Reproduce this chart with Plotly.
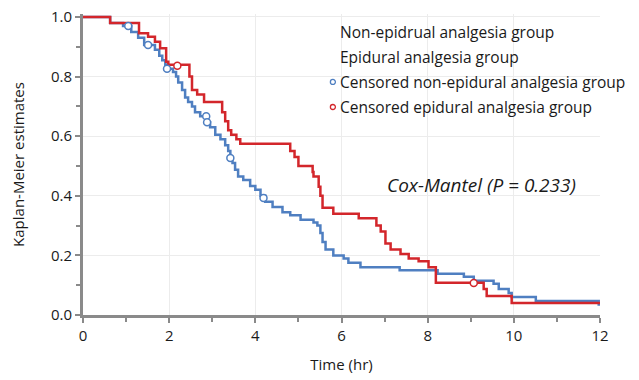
import plotly.graph_objects as go

# Non-epidural analgesia group (blue) - step curve
blue_t = [0, 0.63, 0.93, 1.12, 1.28, 1.42, 1.67, 1.77, 1.84, 1.91, 1.95, 2.09, 2.16, 2.21, 2.30, 2.37, 2.44,
          2.53, 2.60, 2.72, 2.88, 2.95, 3.07, 3.19, 3.30, 3.37, 3.42, 3.47, 3.53, 3.60, 3.72, 3.88, 4.00,
          4.12, 4.23, 4.40, 4.63, 4.81, 5.05, 5.35, 5.44, 5.51, 5.56, 5.63, 5.81, 6.05, 6.16, 6.44, 7.35,
          8.23, 8.84, 9.07, 9.53, 9.65, 9.88, 9.95, 10.51, 11.97, 12.0]
blue_s = [1.0, 0.98, 0.97, 0.95, 0.93, 0.906, 0.89, 0.87, 0.855, 0.84, 0.826, 0.815, 0.80, 0.78, 0.755, 0.73, 0.715,
          0.70, 0.68, 0.667, 0.647, 0.63, 0.605, 0.59, 0.57, 0.55, 0.527, 0.51, 0.487, 0.465, 0.453, 0.433, 0.42,
          0.40, 0.38, 0.362, 0.345, 0.335, 0.32, 0.31, 0.30, 0.275, 0.245, 0.22, 0.20, 0.19, 0.175, 0.16, 0.15,
          0.138, 0.128, 0.115, 0.105, 0.087, 0.074, 0.06, 0.047, 0.035, 0.035]

# Epidural analgesia group (red) - step curve
red_t = [0, 0.63, 1.30, 1.51, 1.67, 1.79, 1.93, 1.98, 2.47, 2.53, 2.65, 2.81, 3.23, 3.30, 3.37, 3.44, 3.56,
         3.65, 4.81, 4.91, 5.00, 5.33, 5.35, 5.47, 5.51, 5.56, 5.81, 6.40, 6.81, 6.91, 7.02, 7.14, 7.37,
         7.56, 7.79, 8.02, 8.19, 9.30, 9.37, 9.95, 12.0]
red_s = [1.0, 0.98, 0.945, 0.934, 0.917, 0.895, 0.85, 0.84, 0.80, 0.755, 0.74, 0.715, 0.68, 0.65, 0.62, 0.605, 0.59,
         0.575, 0.55, 0.53, 0.50, 0.48, 0.465, 0.43, 0.40, 0.36, 0.34, 0.325, 0.30, 0.28, 0.24, 0.22, 0.205,
         0.19, 0.18, 0.16, 0.108, 0.087, 0.064, 0.04, 0.04]

# Censored observations
cens_blue_t = [1.05, 1.51, 1.95, 2.86, 2.88, 3.42, 4.19]
cens_blue_s = [0.97, 0.906, 0.826, 0.667, 0.647, 0.527, 0.393]
cens_red_t = [2.19, 9.07]
cens_red_s = [0.836, 0.107]

legend_labels = ["Non-epidrual analgesia group", "Epidural analgesia group",
                 "Censored non-epidural analgesia group", "Censored epidural analgesia group"]

x_ticks = [0, 2, 4, 6, 8, 10, 12]
y_ticks = [0.0, 0.2, 0.4, 0.6, 0.8, 1.0]

BLUE = "#4f7fc1"
RED = "#d3262b"
FONT = "Open Sans"

fig = go.Figure()
fig.add_trace(go.Scatter(x=blue_t, y=blue_s, mode="lines", line=dict(color=BLUE, width=2.5, shape="hv"),
                         name=legend_labels[0], showlegend=False))
fig.add_trace(go.Scatter(x=red_t, y=red_s, mode="lines", line=dict(color=RED, width=2.5, shape="hv"),
                         name=legend_labels[1], showlegend=False))
fig.add_trace(go.Scatter(x=cens_blue_t, y=cens_blue_s, mode="markers",
                         marker=dict(symbol="circle", size=7, color="white", line=dict(color=BLUE, width=1.5)),
                         name=legend_labels[2], showlegend=False))
fig.add_trace(go.Scatter(x=cens_red_t, y=cens_red_s, mode="markers",
                         marker=dict(symbol="circle", size=7, color="white", line=dict(color=RED, width=1.5)),
                         name=legend_labels[3], showlegend=False))

# Legend drawn as text
leg_y = [0.950, 0.866, 0.782, 0.698]
for i, lab in enumerate(legend_labels):
    fig.add_annotation(x=5.93, y=leg_y[i], xref="x", yref="y", text=lab, showarrow=False,
                       xanchor="left", yanchor="middle", font=dict(family=FONT, size=15.5, color="#1a1a1a"))
for yy, col in [(leg_y[2], BLUE), (leg_y[3], RED)]:
    fig.add_shape(type="circle", xref="x", yref="y", xsizemode="pixel", ysizemode="pixel",
                  xanchor=5.80, yanchor=yy, x0=-2.5, x1=2.5, y0=-2.5, y1=2.5,
                  line=dict(color=col, width=1.3), fillcolor="white")

fig.add_annotation(x=9.26, y=0.436, xref="x", yref="y", text="<i>Cox-Mantel (P = 0.233)</i>", showarrow=False,
                   font=dict(family=FONT, size=19, color="#1a1a1a"))

axis_common = dict(showline=True, linecolor="#8a8a8a", linewidth=3, ticks="outside", tickcolor="#8a8a8a",
                   ticklen=5, tickwidth=2, showgrid=True, gridcolor="#ececec", gridwidth=1, zeroline=False,
                   automargin=False, ticklabeloverflow="allow",
                   tickfont=dict(family=FONT, size=15, color="#1a1a1a"))

fig.update_xaxes(range=[0, 12], tickvals=x_ticks, ticktext=[str(v) for v in x_ticks],
                 minor=dict(dtick=1, ticks="outside", ticklen=4, tickcolor="#8a8a8a", tickwidth=2, showgrid=False),
                 title=dict(text="Time (hr)", font=dict(family=FONT, size=15, color="#1a1a1a"), standoff=16),
                 **axis_common)
fig.update_yaxes(range=[0, 1.01], tickvals=y_ticks, ticktext=[f"{v:.1f}" for v in y_ticks],
                 minor=dict(dtick=0.1, ticks="outside", ticklen=4, tickcolor="#8a8a8a", tickwidth=2, showgrid=False),
                 title=dict(text="Kaplan-Meier estimates", font=dict(family=FONT, size=15, color="#1a1a1a"), standoff=25),
                 **axis_common)

# page body has an 8px margin; figure sized/margined so the plot area lands at the reference position
fig.update_layout(width=631, height=372, margin=dict(l=75, r=39, t=6, b=65, autoexpand=False),
                  plot_bgcolor="white", paper_bgcolor="white", showlegend=False)

fig.write_html("out.html")
